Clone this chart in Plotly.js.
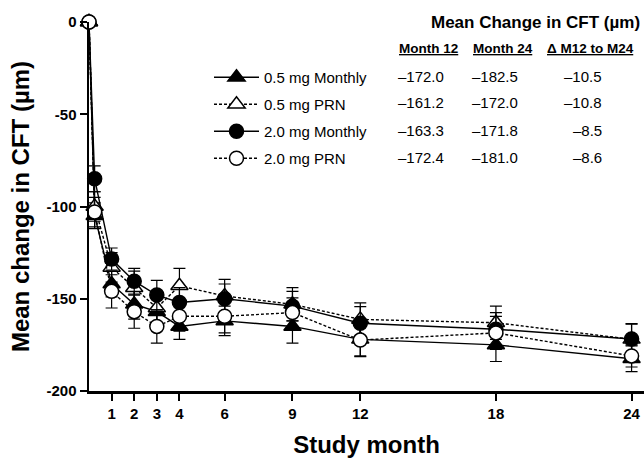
<!DOCTYPE html>
<html>
<head>
<meta charset="utf-8">
<script src="https://cdn.plot.ly/plotly-3.0.1.min.js"></script>
<style>html,body{margin:0;padding:0;background:#fff;}#chart{width:644px;height:460px;}</style>
</head>
<body>
<div id="chart"></div>
<script>
// ---- data ----
const months = [0, 0.25, 1, 2, 3, 4, 6, 9, 12, 18, 24];
const seriesNames = ["0.5 mg Monthly", "0.5 mg PRN", "2.0 mg Monthly", "2.0 mg PRN"];
const mean05Monthly = [0, -105, -142, -153, -157, -165, -162, -165, -172.0, -175, -182.5];
const mean05PRN     = [0, -100, -133, -144, -155, -143, -148.5, -153, -161.2, -163, -172.0];
const mean20Monthly = [0, -85, -128.5, -140.5, -148, -152, -150, -154, -163.3, -166.5, -171.8];
const mean20PRN     = [0, -103, -146, -157, -165, -159.5, -159.5, -157.5, -172.4, -168.5, -181.0];
const err05Monthly = [0, 7, 7, 8, 8, 7, 8, 9, 9, 9, 7];
const err05PRN     = [0, 8, 8, 9, 8, 9.5, 9, 9, 9, 9, 8.5];
const err20Monthly = [0, 7, 6, 7, 8, 8, 8, 8, 9, 9, 8];
const err20PRN     = [0, 8, 9, 9, 9, 8, 9, 8, 9, 9, 6];
const xTickVals = [1, 2, 3, 4, 6, 9, 12, 18, 24];
const yTickVals = [0, -50, -100, -150, -200];
const yTickText = ["0", "-50", "-100", "-150", "-200"];
const tableTitle = "Mean Change in CFT (µm)";
const tableHeaders = ["Month 12", "Month 24", "Δ M12 to M24"];
const month12Vals = ["–172.0", "–161.2", "–163.3", "–172.4"];
const month24Vals = ["–182.5", "–172.0", "–171.8", "–181.0"];
const deltaVals   = ["–10.5", "–10.8", "–8.5", "–8.6"];

// ---- layout helpers ----
const W = 644, H = 460, ML = 89, MR = 0, MT = 22, MB = 69;
const PW = W - ML - MR, PH = H - MT - MB;
const px = x => (x - ML) / PW;
const py = y => (H - MB - y) / PH;
const FONT = "Arial, 'Liberation Sans', sans-serif";

const means = [mean05Monthly, mean05PRN, mean20Monthly, mean20PRN];
const errs = [err05Monthly, err05PRN, err20Monthly, err20PRN];
const symbols = ["triangle-up", "triangle-up", "circle", "circle"];
const fills = ["black", "white", "black", "white"];
const dashes = ["solid", "3px,2px", "solid", "3px,2px"];

const traces = seriesNames.map((name, i) => ({
  type: "scatter", mode: "lines+markers", name: name,
  x: months, y: means[i], legendgroup: "g" + i, cliponaxis: false,
  line: {color: "black", width: 1.4, dash: dashes[i]},
  marker: {symbol: symbols[i], size: symbols[i] === "circle" ? 14 : 15, color: fills[i], line: {color: "black", width: 1.5}},
  error_y: {type: "data", array: errs[i], visible: true, color: "black", thickness: 1.2, width: 6}
}));

const ann = [];
ann.push({xref: "paper", yref: "paper", x: px(642), y: py(22), xanchor: "right", yanchor: "middle",
  text: "<b>" + tableTitle + "</b>", showarrow: false, font: {family: FONT, size: 17, color: "black"}});
const headerX = [428, 503, 590];
tableHeaders.forEach((h, j) => ann.push({xref: "paper", yref: "paper", x: px(headerX[j]), y: py(49),
  xanchor: "center", yanchor: "middle", text: "<b><u>" + h + "</u></b>", showarrow: false,
  font: {family: FONT, size: 13.5, color: "black"}}));
const rowY = [76, 103, 130, 157];
rowY.forEach((ry, i) => {
  ann.push({xref: "paper", yref: "paper", x: px(396), y: py(ry), xanchor: "left", yanchor: "middle",
    text: month12Vals[i], showarrow: false, font: {family: FONT, size: 15, color: "black"}});
  ann.push({xref: "paper", yref: "paper", x: px(470), y: py(ry), xanchor: "left", yanchor: "middle",
    text: month24Vals[i], showarrow: false, font: {family: FONT, size: 15, color: "black"}});
  ann.push({xref: "paper", yref: "paper", x: px(604), y: py(ry), xanchor: "right", yanchor: "middle",
    text: deltaVals[i], showarrow: false, font: {family: FONT, size: 15, color: "black"}});
});

const layout = {
  width: W, height: H, margin: {l: ML, r: MR, t: MT, b: MB},
  paper_bgcolor: "white", plot_bgcolor: "white",
  font: {family: FONT, color: "black"},
  showlegend: true,
  legend: {x: px(209), y: py(61), xanchor: "left", yanchor: "top", bgcolor: "rgba(0,0,0,0)",
    font: {family: FONT, size: 15, color: "black"}, tracegroupgap: 4.5, itemwidth: 45},
  xaxis: {range: [0, 24.55], tickvals: xTickVals, ticks: "outside", ticklen: 7, tickwidth: 2, tickcolor: "black",
    showline: true, linecolor: "black", linewidth: 2.5, showgrid: false, zeroline: false, ticklabeloverflow: "allow",
    tickfont: {family: FONT, size: 15, color: "black", weight: "bold"},
    title: {text: "<b>Study month</b>", font: {family: FONT, size: 24, color: "black"}, standoff: 16}},
  yaxis: {range: [-200, 0], tickvals: yTickVals, ticktext: yTickText, ticks: "outside", ticklen: 7, tickwidth: 2,
    tickcolor: "black", showline: true, linecolor: "black", linewidth: 2.5, showgrid: false, zeroline: false,
    tickfont: {family: FONT, size: 15, color: "black", weight: "bold"},
    title: {text: "<b>Mean change in CFT (µm)</b>", font: {family: FONT, size: 24, color: "black"}, standoff: 10}},
  annotations: ann
};

Plotly.newPlot("chart", traces, layout, {displayModeBar: false, staticPlot: true});
</script>
</body>
</html>
